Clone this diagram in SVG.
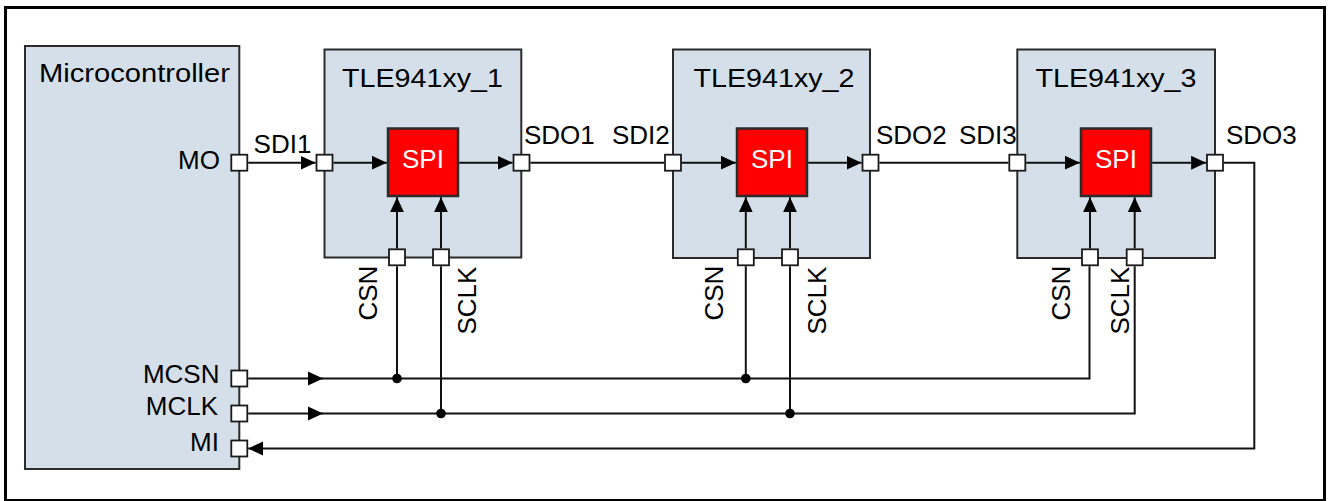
<svg xmlns="http://www.w3.org/2000/svg" width="1328" height="501" viewBox="0 0 1328 501">
<style>
text{font-family:"Liberation Sans",Arial,sans-serif;font-size:26px;fill:#000}
.box{fill:#d5dfea;stroke:#2b2b2b;stroke-width:2}
.spi{fill:#ff0000;stroke:#2b2b2b;stroke-width:2.5}
.pin{fill:#fff;stroke:#1a1a1a;stroke-width:1.8}
.w{stroke:#111;stroke-width:2;fill:none}
.spit{fill:#fff;text-anchor:middle}
.end{text-anchor:end}
</style>
<defs>
<marker id="ah" markerUnits="userSpaceOnUse" markerWidth="15" markerHeight="15" viewBox="0 0 15 15" refX="15" refY="7.5" orient="auto">
<path d="M0,0.5 L15,7.5 L0,14.5 Z" fill="#000"/>
</marker>
</defs>
<rect x="5.5" y="7.5" width="1319" height="493" fill="#fff" stroke="#000" stroke-width="3"/>

<g id="microcontroller">
<rect class="box" x="25" y="46" width="214.3" height="423"/>
<text x="39" y="82" textLength="191" lengthAdjust="spacingAndGlyphs">Microcontroller</text>
<text class="end" x="220" y="168.5">MO</text>
<text class="end" x="219.5" y="382.7">MCSN</text>
<text class="end" x="218" y="415">MCLK</text>
<text class="end" x="219" y="450.7">MI</text>
<rect class="pin" x="231.3" y="154.7" width="16" height="16"/>
<rect class="pin" x="231.3" y="370.5" width="16" height="16"/>
<rect class="pin" x="231.3" y="405.5" width="16" height="16"/>
<rect class="pin" x="231.3" y="440.5" width="16" height="16"/>
</g>

<g id="tle1">
<rect class="box" x="324.5" y="49.5" width="196.8" height="208"/>
<text x="342" y="87.3" textLength="161" lengthAdjust="spacingAndGlyphs">TLE941xy_1</text>
<rect class="spi" x="388" y="128.5" width="70" height="67.5"/>
<text class="spit" x="423" y="168.3">SPI</text>
<rect class="pin" x="316.5" y="154.7" width="16" height="16"/>
<rect class="pin" x="513.5" y="154.7" width="16" height="16"/>
<rect class="pin" x="389" y="249.3" width="16" height="16"/>
<rect class="pin" x="433" y="249.3" width="16" height="16"/>
<text x="253.6" y="153.3">SDI1</text>
<text x="524" y="144">SDO1</text>
<text transform="translate(377,320.5) rotate(-90)">CSN</text>
<text transform="translate(475.5,334.5) rotate(-90)">SCLK</text>
</g>

<g id="tle2">
<rect class="box" x="673" y="49.5" width="197" height="208.5"/>
<text x="693.5" y="87.3" textLength="161" lengthAdjust="spacingAndGlyphs">TLE941xy_2</text>
<rect class="spi" x="737" y="128.5" width="70" height="67.5"/>
<text class="spit" x="772" y="168.3">SPI</text>
<rect class="pin" x="665" y="154.7" width="16" height="16"/>
<rect class="pin" x="862.5" y="154.7" width="16" height="16"/>
<rect class="pin" x="737.8" y="249.3" width="16" height="16"/>
<rect class="pin" x="782" y="249.3" width="16" height="16"/>
<text x="612" y="144">SDI2</text>
<text x="876" y="144">SDO2</text>
<text transform="translate(723,320.5) rotate(-90)">CSN</text>
<text transform="translate(825.5,334.5) rotate(-90)">SCLK</text>
</g>

<g id="tle3">
<rect class="box" x="1017.3" y="49.5" width="197.7" height="208.5"/>
<text x="1035.5" y="87.3" textLength="161" lengthAdjust="spacingAndGlyphs">TLE941xy_3</text>
<rect class="spi" x="1081" y="128.5" width="70" height="67.5"/>
<text class="spit" x="1116" y="168.3">SPI</text>
<rect class="pin" x="1009.3" y="154.7" width="16" height="16"/>
<rect class="pin" x="1207" y="154.7" width="16" height="16"/>
<rect class="pin" x="1082" y="249.3" width="16" height="16"/>
<rect class="pin" x="1126.7" y="249.3" width="16" height="16"/>
<text x="959" y="144">SDI3</text>
<text x="1226" y="144">SDO3</text>
<text transform="translate(1069.5,320.5) rotate(-90)">CSN</text>
<text transform="translate(1128.5,334.5) rotate(-90)">SCLK</text>
</g>

<g id="connectors">
<path class="w" d="M248.2,162.7 H315.6" marker-end="url(#ah)"/>
<path class="w" d="M333.4,162.7 H386.8" marker-end="url(#ah)"/>
<path class="w" d="M459.2,162.7 H512.6" marker-end="url(#ah)"/>
<path class="w" d="M530.4,162.7 H664.1"/>
<path class="w" d="M681.9,162.7 H735.8" marker-end="url(#ah)"/>
<path class="w" d="M808.2,162.7 H861.6" marker-end="url(#ah)"/>
<path class="w" d="M879.4,162.7 H1008.4"/>
<path class="w" d="M1026.2,162.7 H1079.8" marker-end="url(#ah)"/>
<path class="w" d="M1152.2,162.7 H1206.1" marker-end="url(#ah)"/>
<path class="w" d="M1223.9,162.7 H1254.3 V448.5 H248.2" marker-end="url(#ah)"/>

<path class="w" d="M397,248.4 V197.3" marker-end="url(#ah)"/>
<path class="w" d="M441,248.4 V197.3" marker-end="url(#ah)"/>
<path class="w" d="M745.8,248.4 V197.3" marker-end="url(#ah)"/>
<path class="w" d="M790,248.4 V197.3" marker-end="url(#ah)"/>
<path class="w" d="M1090,248.4 V197.3" marker-end="url(#ah)"/>
<path class="w" d="M1134.7,248.4 V197.3" marker-end="url(#ah)"/>

<path class="w" d="M248.2,378.5 H323" marker-end="url(#ah)"/>
<path class="w" d="M322,378.5 H1089.5 V266.2"/>
<path class="w" d="M248.2,413.5 H323" marker-end="url(#ah)"/>
<path class="w" d="M322,413.5 H1134.7 V266.2"/>
<path class="w" d="M397,266.2 V378.5"/>
<path class="w" d="M441,266.2 V413.5"/>
<path class="w" d="M745.8,266.2 V378.5"/>
<path class="w" d="M790,266.2 V413.5"/>
<circle cx="397" cy="378.5" r="4.8" fill="#000"/>
<circle cx="441" cy="413.5" r="4.8" fill="#000"/>
<circle cx="745.8" cy="378.5" r="4.8" fill="#000"/>
<circle cx="790" cy="413.5" r="4.8" fill="#000"/>
</g>
</svg>
